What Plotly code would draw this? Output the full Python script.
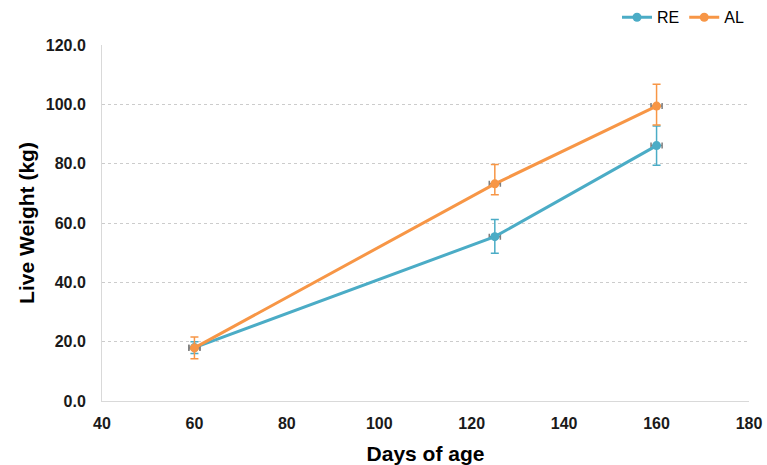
import plotly.graph_objects as go

days = [60, 125, 160]
re_weight = [18.0, 55.4, 86.1]
re_err_plus = [2.0, 5.8, 6.6]
re_err_minus = [2.0, 5.6, 6.6]
al_weight = [17.9, 73.2, 99.4]
al_err_plus = [3.7, 6.5, 7.4]
al_err_minus = [3.7, 3.7, 6.4]

BLUE = "#4bacc6"
ORANGE = "#f79646"
GREY = "#7f7f7f"

fig = go.Figure()
for name, y, ep, em, col in [("RE", re_weight, re_err_plus, re_err_minus, BLUE),
                             ("AL", al_weight, al_err_plus, al_err_minus, ORANGE)]:
    fig.add_trace(go.Scatter(
        x=days, y=y, name=name, mode="lines+markers",
        line=dict(color=col, width=3),
        marker=dict(color=col, size=9),
        error_y=dict(type="data", symmetric=False, array=ep, arrayminus=em,
                     color=col, thickness=1.5, width=4),
        error_x=dict(type="constant", value=1.2, color=GREY, thickness=1.5, width=3),
    ))

tickfont = dict(size=16, family="Liberation Sans, Arial", weight="bold", color="#1a1a1a")
fig.update_layout(
    width=767, height=465,
    margin=dict(l=102, r=18, t=45, b=64, autoexpand=False),
    plot_bgcolor="white", paper_bgcolor="white",
    font=dict(family="Liberation Sans, Arial, sans-serif", color="black"),
    showlegend=True,
    legend=dict(orientation="h", x=1.0, xanchor="right", y=1.03, yanchor="bottom",
                font=dict(size=16), itemwidth=30, traceorder="normal"),
    xaxis=dict(range=[40, 180], dtick=20, showgrid=False, zeroline=False,
               showline=True, linecolor="#d9d9d9", linewidth=1,
               ticks="", tickfont=tickfont, ticklabelstandoff=8,
               title=dict(text="<b>Days of age</b>", font=dict(size=21), standoff=15)),
    yaxis=dict(range=[0, 120], dtick=20, tickformat=".1f", showgrid=True,
               gridcolor="#cccccc", griddash="dot", gridwidth=1, zeroline=False,
               showline=True, linecolor="#d9d9d9", linewidth=1,
               ticks="", tickfont=tickfont, ticklabelstandoff=12,
               title=dict(text="<b>Live Weight (kg)</b>", font=dict(size=21), standoff=5)),
)

fig.write_html("out.html", config={"displayModeBar": False},
               post_script="document.body.style.margin='0';document.body.style.overflow='hidden';")
